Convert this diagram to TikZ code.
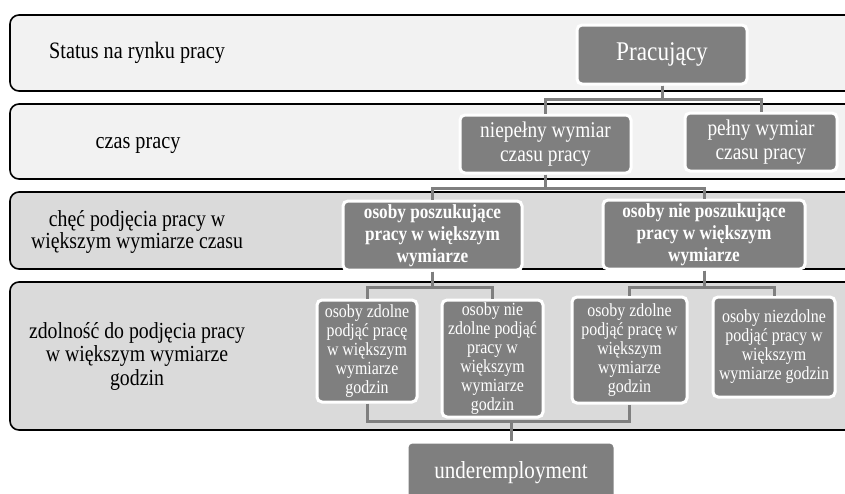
\documentclass[tikz,border=0pt]{standalone}
\usepackage{fontspec}
\setmainfont{Liberation Serif}[FakeStretch=0.86]
\usepackage{xcolor}
\usetikzlibrary{positioning}

\definecolor{bandlight}{HTML}{F2F2F2}
\definecolor{banddark}{HTML}{DADADA}
\definecolor{boxgray}{HTML}{7F7F7F}
\newcommand{\fsz}[2]{\fontsize{#1}{#2}\selectfont}

\begin{document}
\begin{tikzpicture}[x=1pt, y=-1pt,
    band/.style={draw=black, line width=1.6pt, rounded corners=9pt},
    box/.style={fill=boxgray, draw=white, line width=3pt, rounded corners=5pt,
                text=white, align=center, inner sep=0pt},
    lbl/.style={align=center, text=black, inner sep=0pt},
    conn/.style={draw=boxgray, line width=3pt}]
    \useasboundingbox (0,0) rectangle (845,493);
    \clip (0,0) rectangle (845,493);

    % pasy (poziomy)
    \draw[band, fill=bandlight] (10,15) rectangle (880,91);
    \draw[band, fill=bandlight] (10,104) rectangle (880,179);
    \draw[band, fill=banddark] (10,192) rectangle (880,269);
    \draw[band, fill=banddark] (10,282) rectangle (880,430);

    % opisy poziomow
    \node[lbl, anchor=west, font=\fsz{23.5}{23}] (status) at (49,53) {Status na rynku pracy};
    \node[lbl, font=\fsz{23.5}{23}] (czas) at (138,145) {czas pracy};
    \node[lbl, font=\fsz{23}{22}] (chec) at (137,232) {chęć podjęcia pracy w\\większym wymiarze czasu};
    \node[lbl, font=\fsz{23}{23.5}] (zdolnosc) at (137,356) {zdolność do podjęcia pracy\\w większym wymiarze\\godzin};

    % wezly drzewa
    \node[box, minimum width=170pt, minimum height=59pt, font=\fsz{27}{28}] (pracujacy) at (662,54.5) {Pracujący};

    \node[box, minimum width=171pt, minimum height=58pt, font=\fsz{22.5}{24}] (niepelny) at (545.5,144) {niepełny wymiar\\czasu pracy};
    \node[box, minimum width=152pt, minimum height=58pt, font=\fsz{22.5}{24}] (pelny) at (761,142) {pełny wymiar\\czasu pracy};

    \node[box, minimum width=179pt, minimum height=69pt, font=\fsz{20}{22}\bfseries] (poszuk) at (432.5,235.5) {osoby poszukujące\\pracy w większym\\wymiarze};
    \node[box, minimum width=202pt, minimum height=69pt, font=\fsz{20}{22}\bfseries] (nieposzuk) at (704,234.5) {osoby nie poszukujące\\pracy w większym\\wymiarze};

    \node[box, minimum width=100pt, minimum height=102pt, font=\fsz{18.5}{19}] (zdolne_a) at (367,351) {osoby zdolne\\podjąć pracę\\w większym\\wymiarze\\godzin};
    \node[box, minimum width=101pt, minimum height=117pt, font=\fsz{18.5}{19}] (niezdolne_a) at (492.5,358.5) {osoby nie\\zdolne podjąć\\pracy w\\większym\\wymiarze\\godzin};
    \node[box, minimum width=115pt, minimum height=106pt, font=\fsz{18.5}{19}] (zdolne_b) at (629.5,350) {osoby zdolne\\podjąć pracę w\\większym\\wymiarze\\godzin};
    \node[box, minimum width=122pt, minimum height=100pt, font=\fsz{18.5}{19}] (niezdolne_b) at (774,347) {osoby niezdolne\\podjąć pracy w\\większym\\wymiarze godzin};

    \node[box, minimum width=208pt, minimum height=62pt, font=\fsz{24.5}{26}] (under) at (511,473) {underemployment};

    % polaczenia
    \draw[conn] (pracujacy.south) -- ++(0,14) -| (niepelny.north);
    \draw[conn] (pracujacy.south) -- ++(0,14) -| (pelny.north);
    \draw[conn] (niepelny.south) -- ++(0,14) -| (poszuk.north);
    \draw[conn] (niepelny.south) -- ++(0,14) -| (nieposzuk.north);
    \draw[conn] (poszuk.south) -- ++(0,16) -| (zdolne_a.north);
    \draw[conn] (poszuk.south) -- ++(0,16) -| (niezdolne_a.north);
    \draw[conn] (nieposzuk.south) -- ++(0,17) -| (zdolne_b.north);
    \draw[conn] (nieposzuk.south) -- ++(0,17) -| (niezdolne_b.north);
    \draw[conn] (zdolne_a.south) -- ++(0,18) coordinate (lowbar) -| (zdolne_b.south);
    \draw[conn] (under.north) -- (under.north |- lowbar);
\end{tikzpicture}
\end{document}
